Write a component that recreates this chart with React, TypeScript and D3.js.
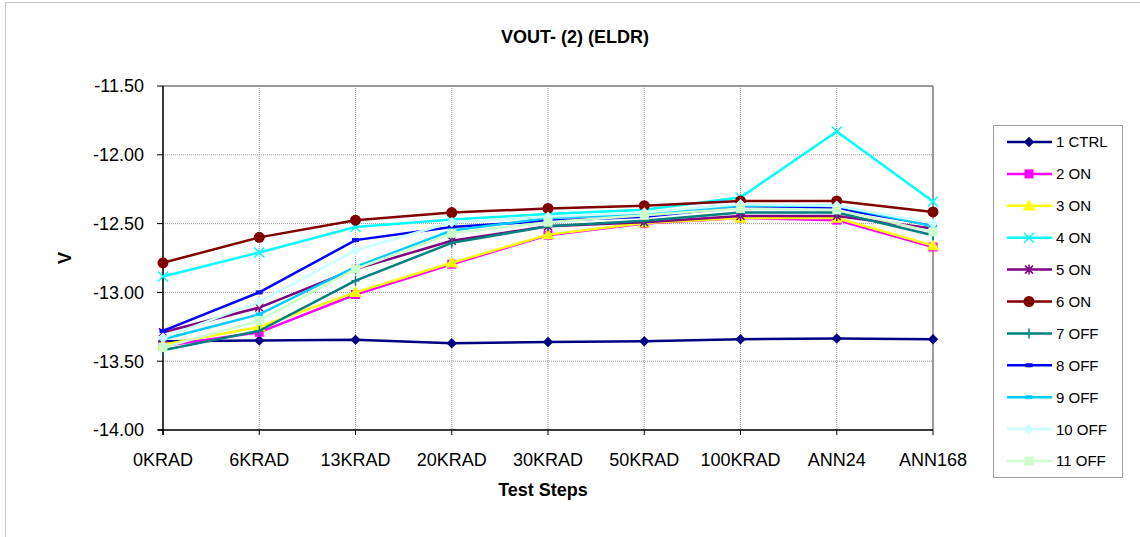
import React from 'react';
import * as d3 from 'd3';

// categories along the x axis
const steps = ['0KRAD', '6KRAD', '13KRAD', '20KRAD', '30KRAD', '50KRAD', '100KRAD', 'ANN24', 'ANN168'];

// y axis ticks
const yTicks = [-11.5, -12.0, -12.5, -13.0, -13.5, -14.0];

// series values
const ctrl1 = [-13.355, -13.35, -13.345, -13.37, -13.36, -13.355, -13.34, -13.335, -13.34];
const on2 = [-13.39, -13.29, -13.015, -12.795, -12.585, -12.5, -12.46, -12.475, -12.67];
const on3 = [-13.38, -13.25, -13.0, -12.785, -12.58, -12.495, -12.46, -12.46, -12.66];
const on4 = [-12.885, -12.71, -12.525, -12.47, -12.43, -12.4, -12.31, -11.83, -12.34];
const on5 = [-13.29, -13.11, -12.83, -12.625, -12.52, -12.49, -12.445, -12.445, -12.535];
const on6 = [-12.785, -12.6, -12.475, -12.42, -12.39, -12.37, -12.335, -12.335, -12.415];
const off7 = [-13.42, -13.28, -12.915, -12.64, -12.52, -12.48, -12.42, -12.42, -12.585];
const off8 = [-13.28, -13.0, -12.62, -12.525, -12.48, -12.45, -12.38, -12.39, -12.51];
const off9 = [-13.34, -13.16, -12.815, -12.55, -12.46, -12.43, -12.37, -12.37, -12.52];
const off10 = [-13.33, -13.07, -12.695, -12.49, -12.45, -12.42, -12.36, -12.37, -12.5];
const off11 = [-13.4, -13.205, -12.83, -12.57, -12.49, -12.44, -12.39, -12.4, -12.56];

const seriesNames = ['1 CTRL', '2 ON', '3 ON', '4 ON', '5 ON', '6 ON', '7 OFF', '8 OFF', '9 OFF', '10 OFF', '11 OFF'];
const seriesValues = [ctrl1, on2, on3, on4, on5, on6, off7, off8, off9, off10, off11];
const seriesColors = ['#000080', '#FF00FF', '#FFFF00', '#00FFFF', '#800080', '#800000', '#008080', '#0000FF', '#00CCFF', '#CCFFFF', '#CCFFCC'];
const seriesMarkers = ['diamond', 'square', 'triangle', 'x', 'star', 'circle', 'plus', 'dash', 'dash', 'diamond', 'square'];

const W = 1140;
const H = 537;
const font = '"Liberation Sans", Arial, sans-serif';

const plot = { left: 163, right: 933, top: 86, bottom: 430 };

const Marker = ({ kind, x, y, color }) => {
  switch (kind) {
    case 'diamond':
      return <path transform={`translate(${x},${y})`} d={d3.symbol(d3.symbolDiamond2, 70)()} fill={color} />;
    case 'square':
      return <rect x={x - 4.5} y={y - 4.5} width={9} height={9} fill={color} />;
    case 'triangle':
      return <path transform={`translate(${x},${y + 1})`} d={d3.symbol(d3.symbolTriangle, 70)()} fill={color} />;
    case 'circle':
      return <circle cx={x} cy={y} r={5.5} fill={color} />;
    case 'x':
      return (
        <path d={`M${x - 5},${y - 5}L${x + 5},${y + 5}M${x - 5},${y + 5}L${x + 5},${y - 5}`} stroke={color} strokeWidth={1.5} />
      );
    case 'star':
      return (
        <path
          d={`M${x - 4},${y - 4}L${x + 4},${y + 4}M${x - 4},${y + 4}L${x + 4},${y - 4}M${x},${y - 5}L${x},${y + 5}`}
          stroke={color}
          strokeWidth={1.5}
        />
      );
    case 'plus':
      return <path d={`M${x},${y - 5}L${x},${y + 5}M${x - 4},${y}L${x + 4},${y}`} stroke={color} strokeWidth={1.5} />;
    case 'dash':
      return <rect x={x - 3.5} y={y - 2} width={7} height={4} fill={color} />;
    default:
      return null;
  }
};

const App = () => {
  const x = d3.scalePoint().domain(steps).range([plot.left, plot.right]);
  const y = d3.scaleLinear().domain([-14, -11.5]).range([plot.bottom, plot.top]);
  const line = d3
    .line()
    .x((d) => d[0])
    .y((d) => d[1]);

  const legendTop = 142;
  const legendGap = 31.9;

  return (
    <svg width={W} height={H} style={{ position: 'absolute', left: 0, top: 0, fontFamily: font }}>
      <rect x={0} y={0} width={W} height={H} fill="#fff" />
      <rect x={5.5} y={2.5} width={W + 10} height={H + 10} fill="none" stroke="#c8c8c8" />

      <text x={575} y={37} dy="0.36em" textAnchor="middle" fontSize={18} fontWeight="bold">
        VOUT- (2) (ELDR)
      </text>

      {/* gridlines */}
      {yTicks.map((t) => (
        <line key={`gy${t}`} x1={plot.left} x2={plot.right} y1={y(t)} y2={y(t)} stroke="#999" strokeDasharray="1,1" />
      ))}
      {steps.map((s) => (
        <line key={`gx${s}`} x1={x(s)} x2={x(s)} y1={plot.top} y2={plot.bottom} stroke="#999" strokeDasharray="1,1" />
      ))}

      {/* plot frame */}
      <line x1={plot.left} x2={plot.right} y1={plot.top} y2={plot.top} stroke="#808080" strokeWidth={1.5} />
      <line x1={plot.right} x2={plot.right} y1={plot.top} y2={plot.bottom} stroke="#808080" strokeWidth={1.5} />
      <line x1={plot.left} x2={plot.left} y1={plot.top} y2={plot.bottom + 5} stroke="#000" strokeWidth={1.5} />
      <line x1={plot.left - 5} x2={plot.right} y1={plot.bottom} y2={plot.bottom} stroke="#000" strokeWidth={1.5} />

      {/* y axis ticks and labels */}
      {yTicks.map((t) => (
        <g key={`ty${t}`}>
          <line x1={plot.left - 6} x2={plot.left} y1={y(t)} y2={y(t)} stroke="#000" />
          <text x={144} y={y(t)} dy="0.36em" textAnchor="end" fontSize={18}>
            {t.toFixed(2)}
          </text>
        </g>
      ))}

      {/* x axis ticks and labels */}
      {steps.map((s) => (
        <g key={`tx${s}`}>
          <line x1={x(s)} x2={x(s)} y1={plot.bottom} y2={plot.bottom + 5} stroke="#000" />
          <text x={x(s)} y={460} dy="0.36em" textAnchor="middle" fontSize={18}>
            {s}
          </text>
        </g>
      ))}

      <text x={543} y={490} dy="0.36em" textAnchor="middle" fontSize={18} fontWeight="bold">
        Test Steps
      </text>
      <text transform={`translate(65,${(plot.top + plot.bottom) / 2}) rotate(-90)`} dy="0.36em" textAnchor="middle" fontSize={18} fontWeight="bold">
        V
      </text>

      {/* series */}
      {seriesValues.map((vals, i) => {
        const pts = vals.map((v, j) => [x(steps[j]), y(v)]);
        return (
          <g key={seriesNames[i]}>
            <path d={line(pts)} fill="none" stroke={seriesColors[i]} strokeWidth={2.5} />
            {pts.map((p, j) => (
              <Marker key={j} kind={seriesMarkers[i]} x={p[0]} y={p[1]} color={seriesColors[i]} />
            ))}
          </g>
        );
      })}

      {/* legend */}
      <rect x={993.5} y={125.5} width={129} height={352} fill="#fff" stroke="#a0a0a0" />
      {seriesNames.map((name, i) => {
        const ly = legendTop + i * legendGap;
        return (
          <g key={`lg${name}`}>
            <line x1={1007} x2={1052} y1={ly} y2={ly} stroke={seriesColors[i]} strokeWidth={2.5} />
            <Marker kind={seriesMarkers[i]} x={1029} y={ly} color={seriesColors[i]} />
            <text x={1056} y={ly} dy="0.36em" fontSize={15}>
              {name}
            </text>
          </g>
        );
      })}
    </svg>
  );
};

export default App;
